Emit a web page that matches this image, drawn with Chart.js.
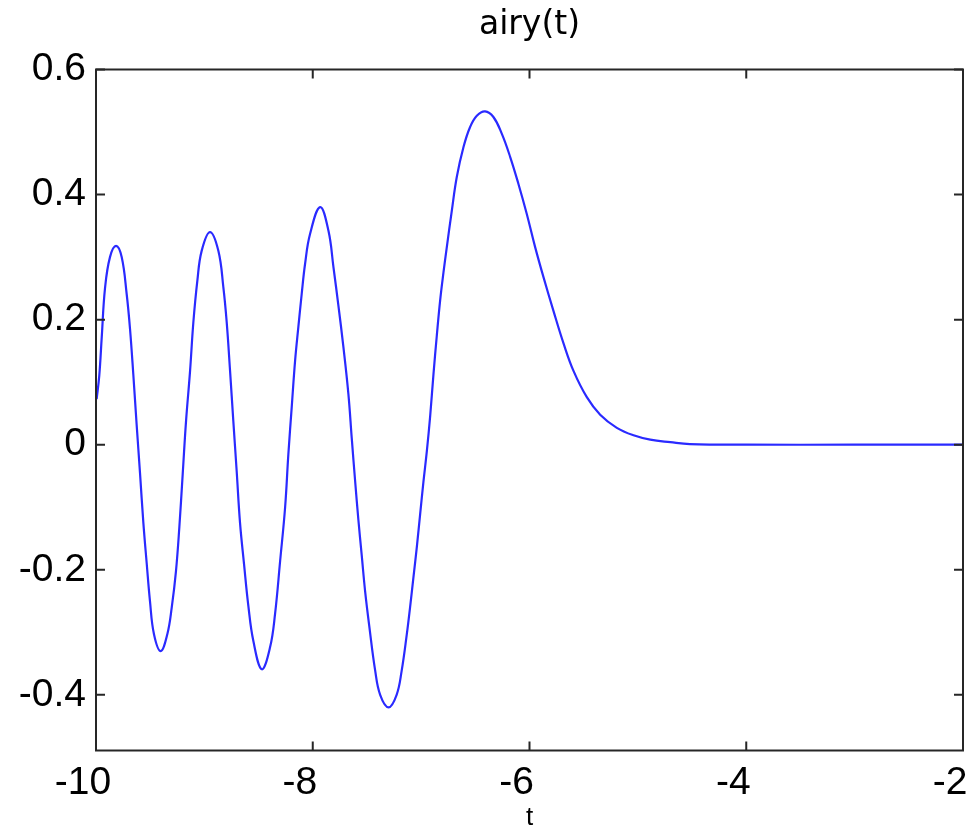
<!DOCTYPE html>
<html lang="en">
<head>
  <meta charset="UTF-8">
  <title>airy(t)</title>
  <script src="https://cdn.jsdelivr.net/npm/chart.js"></script>
  <style>
    body { margin: 0; background: #fff; }
  </style>
</head>
<body>
  <canvas id="airyChart" width="975" height="832"></canvas>

  <script>
    // values
    const tValues = [
      -9.994, -9.970, -9.947, -9.917, -9.871, -9.815, -9.763, -9.717, -9.686, -9.656,
      -9.625, -9.594, -9.563, -9.532, -9.502, -9.465, -9.403, -9.342, -9.301, -9.262,
      -9.231, -9.200, -9.169, -9.132, -9.102, -9.065, -9.025, -8.948, -8.871, -8.825,
      -8.794, -8.763, -8.733, -8.702, -8.671, -8.634, -8.594, -8.548, -8.470, -8.394,
      -8.348, -8.301, -8.255, -8.225, -8.194, -8.163, -8.133, -8.102, -8.071, -8.025,
      -7.932, -7.855, -7.809, -7.763, -7.717, -7.671, -7.640, -7.609, -7.579, -7.548,
      -7.517, -7.477, -7.425, -7.378, -7.300, -7.226, -7.180, -7.132, -7.102, -7.071,
      -7.040, -7.009, -6.979, -6.947, -6.917, -6.886, -6.855, -6.825, -6.794, -6.763,
      -6.717, -6.671, -6.609, -6.548, -6.486, -6.410, -6.333, -6.255, -6.178, -6.102,
      -6.025, -5.948, -5.871, -5.779, -5.686, -5.594, -5.471, -5.348, -5.194, -5.040,
      -4.886, -4.700, -4.520, -4.000, -3.000, -2.000
    ];
    const airyValues = [
      0.073, 0.110, 0.172, 0.250, 0.300, 0.318, 0.300, 0.241, 0.185, 0.113,
      0.032, -0.045, -0.125, -0.190, -0.250, -0.303, -0.330, -0.303, -0.260, -0.202,
      -0.132, -0.047, 0.038, 0.118, 0.195, 0.262, 0.310, 0.340, 0.310, 0.252,
      0.196, 0.118, 0.038, -0.042, -0.125, -0.191, -0.258, -0.314, -0.359, -0.324,
      -0.271, -0.186, -0.100, -0.015, 0.060, 0.134, 0.188, 0.241, 0.289, 0.337,
      0.380, 0.342, 0.284, 0.222, 0.156, 0.081, 0.010, -0.058, -0.120, -0.177,
      -0.234, -0.292, -0.360, -0.400, -0.420, -0.400, -0.362, -0.303, -0.260, -0.212,
      -0.164, -0.111, -0.060, -0.010, 0.045, 0.113, 0.175, 0.230, 0.275, 0.316,
      0.374, 0.428, 0.476, 0.508, 0.526, 0.533, 0.524, 0.497, 0.460, 0.417,
      0.369, 0.316, 0.268, 0.214, 0.162, 0.118, 0.076, 0.048, 0.027, 0.015,
      0.008, 0.004, 0.001, 0.000, 0.000, 0.000
    ];
    const xTicks = [-10, -8, -6, -4, -2];
    const xTickLabels = ['-10', '-8', '-6', '-4', '-2'];
    const yTicks = [-0.4, -0.2, 0, 0.2, 0.4, 0.6];
    const yTickLabels = ['-0.4', '-0.2', '0', '0.2', '0.4', '0.6'];

    const axisColor = '#262626';
    const tickFont = { family: 'Liberation Sans, Arial, sans-serif', size: 39, lineHeight: 1 };

    // MATLAB style box with tick marks pointing inwards on all four sides
    const boxTicks = {
      id: 'boxTicks',
      afterDraw(chart) {
        const { ctx, chartArea: a, scales: { x, y } } = chart;
        const len = 9;
        ctx.save();
        ctx.strokeStyle = axisColor;
        ctx.lineWidth = 2;
        ctx.strokeRect(a.left, a.top, a.right - a.left, a.bottom - a.top);
        ctx.beginPath();
        xTicks.forEach(v => {
          const p = x.getPixelForValue(v);
          ctx.moveTo(p, a.bottom); ctx.lineTo(p, a.bottom - len);
          ctx.moveTo(p, a.top); ctx.lineTo(p, a.top + len);
        });
        yTicks.forEach(v => {
          const p = y.getPixelForValue(v);
          ctx.moveTo(a.left, p); ctx.lineTo(a.left + len, p);
          ctx.moveTo(a.right, p); ctx.lineTo(a.right - len, p);
        });
        ctx.stroke();
        ctx.restore();
      }
    };

    const ctx = document.getElementById('airyChart').getContext('2d');
    new Chart(ctx, {
      type: 'line',
      data: {
        datasets: [{
          label: 'airy(t)',
          data: tValues.map((t, i) => ({ x: t, y: airyValues[i] })),
          borderColor: '#2a2aff',
          borderWidth: 2.2,
          pointRadius: 0,
          fill: false,
          tension: 0.4
        }]
      },
      options: {
        responsive: false,
        animation: false,
        layout: { padding: { left: 0, right: 12, top: 0, bottom: 0 } },
        plugins: {
          legend: { display: false },
          tooltip: { enabled: false },
          title: {
            display: true,
            fullSize: false,
            text: 'airy(t)',
            color: '#000',
            font: { family: 'DejaVu Sans, sans-serif', size: 33, weight: 'normal', lineHeight: 1.2 },
            padding: { top: 5.5, bottom: 24.4 }
          }
        },
        scales: {
          x: {
            type: 'linear',
            min: -10,
            max: -2,
            grid: { display: false },
            border: { display: false },
            afterBuildTicks: s => { s.ticks = xTicks.map(v => ({ value: v })); },
            afterFit: s => { s.height = 81.5; s.paddingLeft = 0; s.paddingRight = 0; },
            ticks: {
              color: '#000',
              font: tickFont,
              padding: 5,
              labelOffset: -13,
              maxRotation: 0,
              autoSkip: false,
              callback: (v, i) => xTickLabels[i]
            },
            title: {
              display: true,
              text: 't',
              color: '#000',
              font: { family: 'Liberation Sans, Arial, sans-serif', size: 26, lineHeight: 1 },
              padding: { top: 0, bottom: 1 }
            }
          },
          y: {
            min: -0.489,
            max: 0.6,
            grid: { display: false },
            border: { display: false },
            afterBuildTicks: s => { s.ticks = yTicks.map(v => ({ value: v })); },
            afterFit: s => { s.width = 96; s.paddingTop = 0; s.paddingBottom = 0; },
            ticks: {
              color: '#000',
              font: tickFont,
              padding: 2,
              autoSkip: false,
              callback: (v, i) => yTickLabels[i]
            }
          }
        }
      },
      plugins: [boxTicks]
    });
  </script>
</body>
</html>
